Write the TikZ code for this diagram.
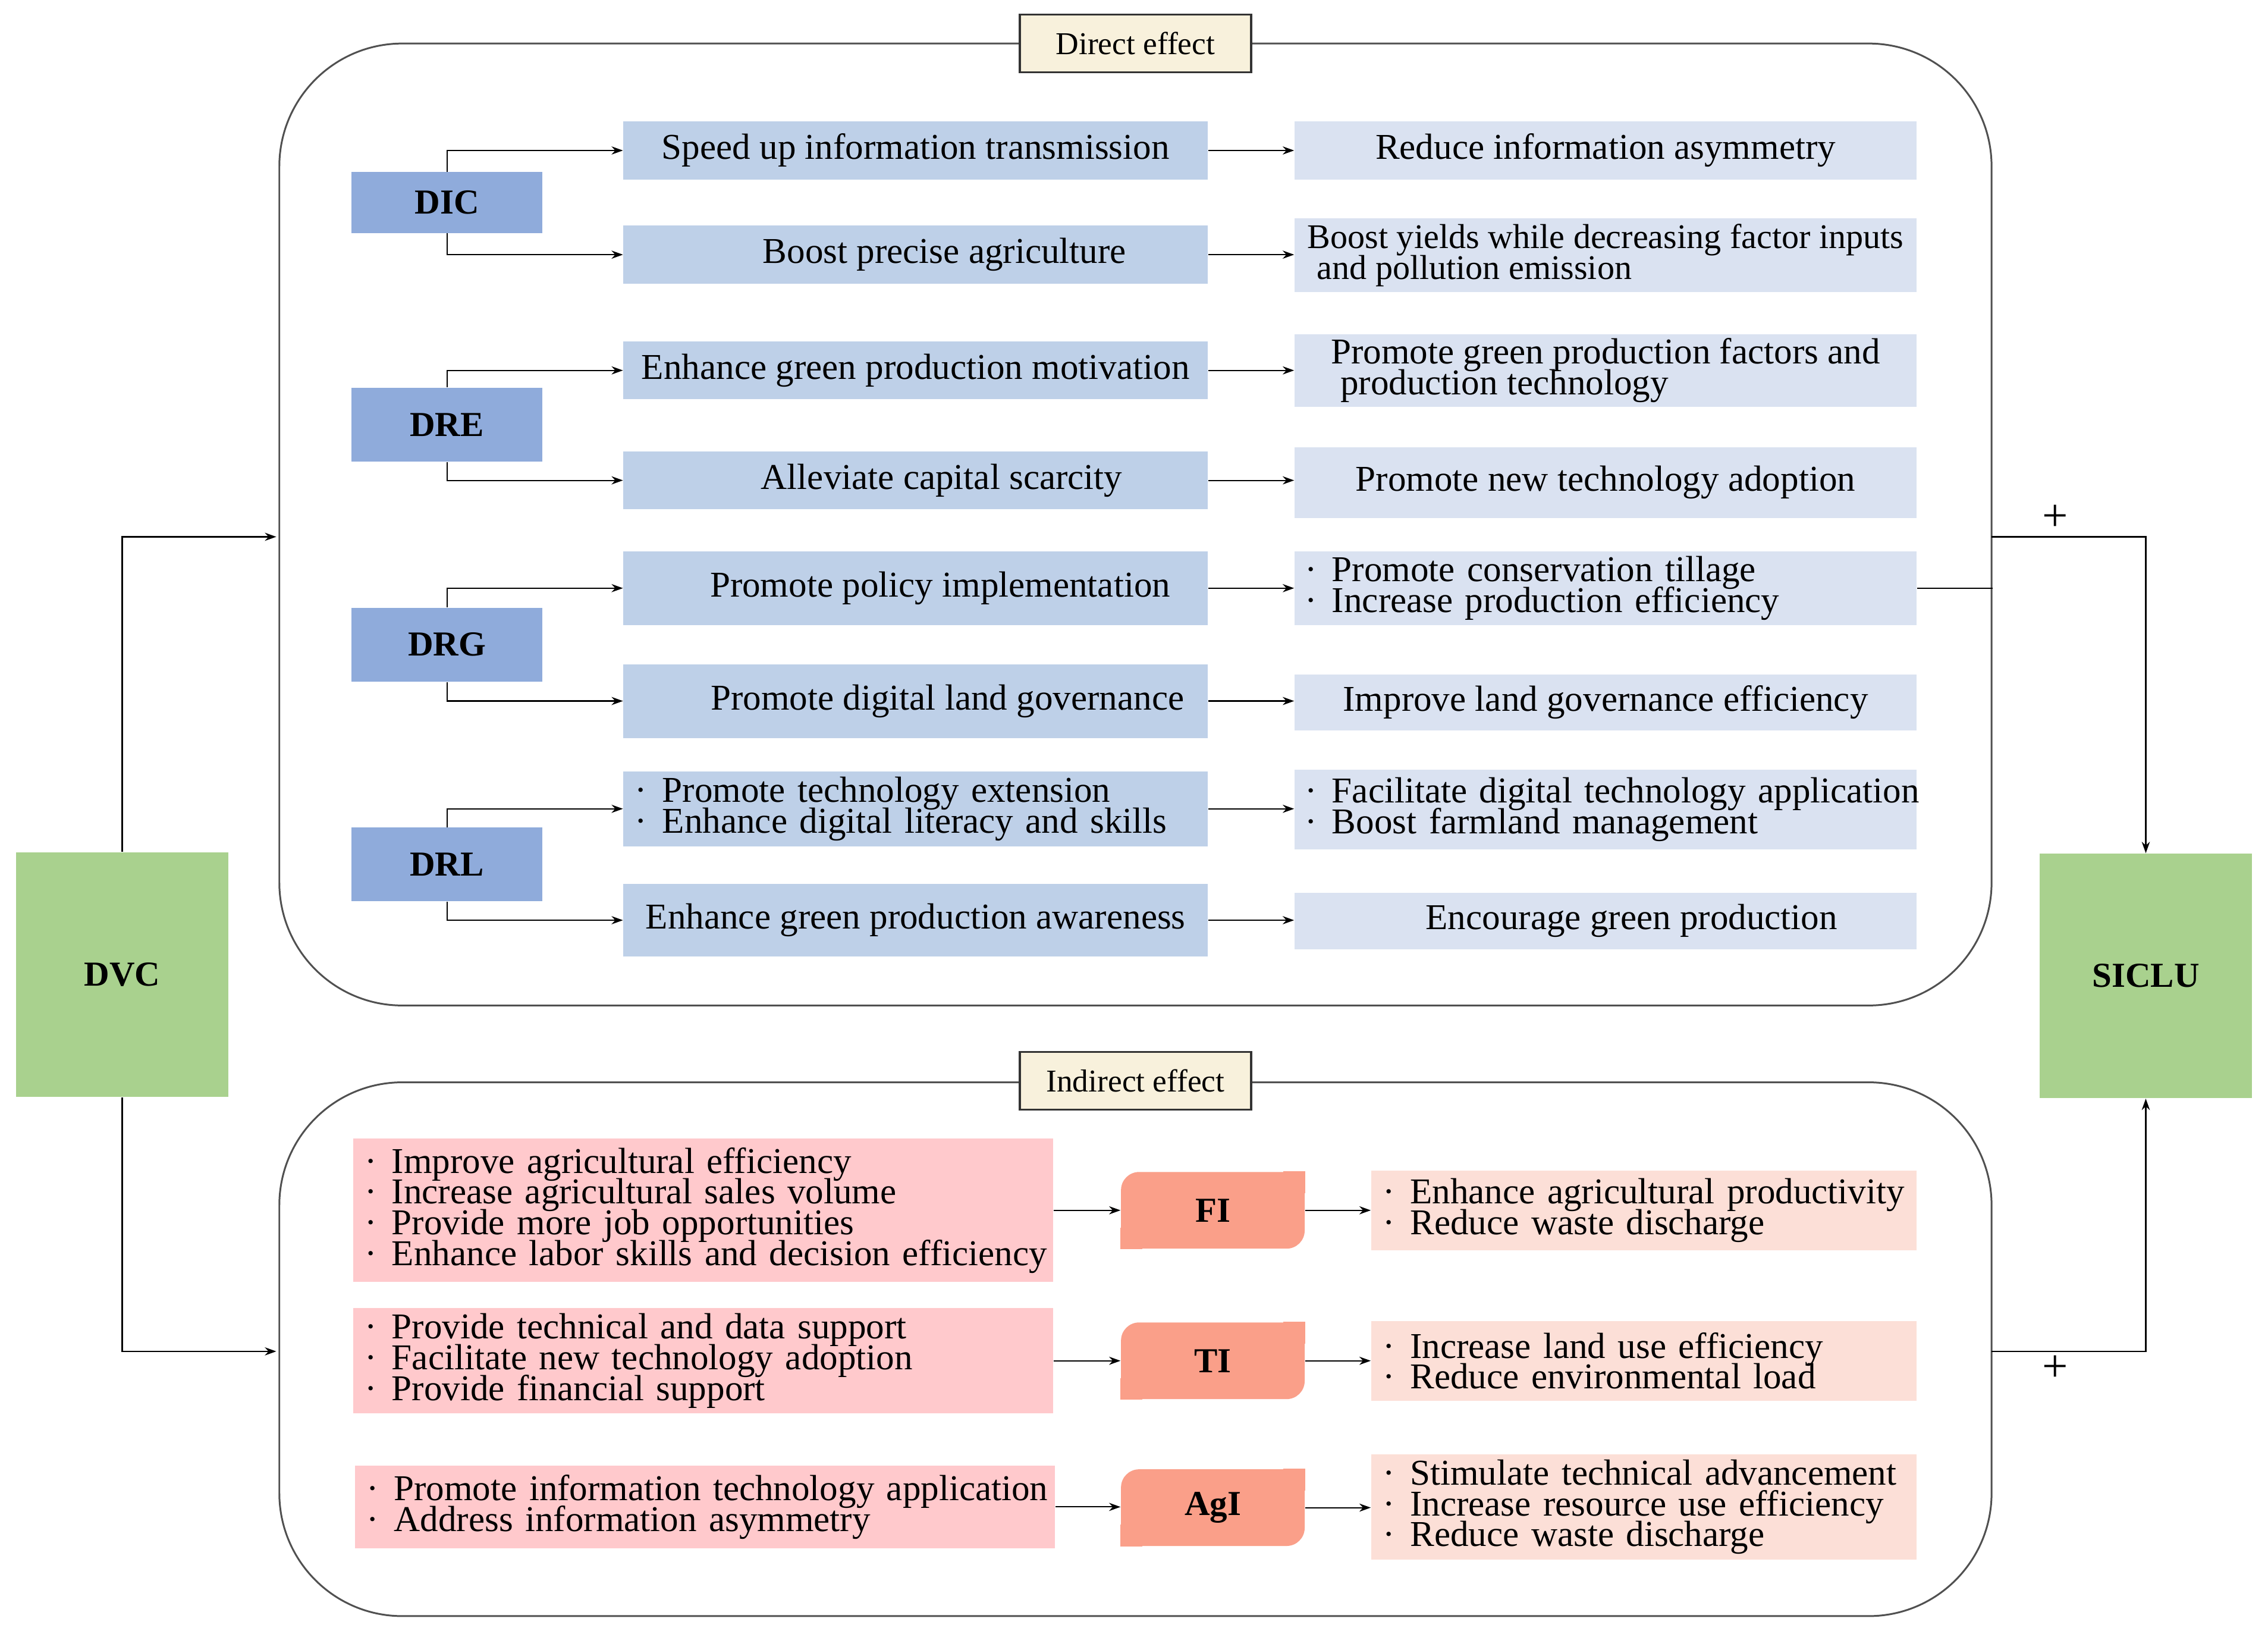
\documentclass[tikz,border=0pt]{standalone}
\usepackage{fontspec}
\setmainfont{Liberation Serif}
\usetikzlibrary{arrows.meta}
\definecolor{catblue}{HTML}{8FABDB}
\definecolor{midblue}{HTML}{BED0E8}
\definecolor{ltblue}{HTML}{DAE2F1}
\definecolor{pinkbox}{HTML}{FFC9CC}
\definecolor{salmonbox}{HTML}{FA9F89}
\definecolor{peachbox}{HTML}{FCDFD7}
\definecolor{dvgreen}{HTML}{A9D18E}
\definecolor{creambox}{HTML}{F8F1DC}
\definecolor{framegray}{HTML}{505050}
\newcommand\li[1]{\mbox{·\hspace{0.21cm}#1}}
\newcommand\txtfont{\fontsize{14.3}{12.1}\selectfont\setlength{\lineskiplimit}{-50pt}\setlength{\lineskip}{0pt}}
\newcommand\smtxtfont{\fontsize{13.6}{12.1}\selectfont\setlength{\lineskiplimit}{-50pt}\setlength{\lineskip}{0pt}}
\begin{document}
\begin{tikzpicture}[x=0.02cm,y=-0.02cm,
  txt/.style={font=\txtfont},
  bold/.style={font=\fontsize{13.8}{16}\selectfont\bfseries},
  cat/.style={fill=catblue, minimum width=2.64cm, inner sep=0pt, bold},
  mid/.style={fill=midblue, minimum width=8.08cm, inner sep=0pt, txt},
  rgt/.style={fill=ltblue, minimum width=8.6cm, inner sep=0pt, txt},
  midlst/.style={mid, align=left, inner xsep=0.16cm, text width=7.76cm},
  rgtlst/.style={rgt, align=left, inner xsep=0.14cm, text width=8.32cm},
  pinkl/.style={fill=pinkbox, minimum width=9.68cm, txt, align=left, inner xsep=0.16cm, inner ysep=0pt, text width=9.36cm},
  peachl/.style={fill=peachbox, minimum width=7.54cm, txt, align=left, inner xsep=0.16cm, inner ysep=0pt, text width=7.22cm},
  med/.style={fill=salmonbox, minimum width=2.54cm, minimum height=1.06cm, rounded corners=0.25cm, inner sep=0pt, bold},
  gbox/.style={fill=dvgreen, minimum width=2.94cm, minimum height=3.38cm, inner sep=0pt, bold},
  frame/.style={draw=framegray, line width=0.7pt, rounded corners=1.7cm, minimum width=23.68cm, inner sep=0pt},
  lab/.style={draw=black!80, fill=creambox, line width=0.8pt, minimum width=3.2cm, minimum height=0.8cm, inner sep=0pt, font=\fontsize{12.5}{14}\selectfont},
  arr/.style={-{Stealth[length=4.5pt,width=3.2pt]}, line width=0.5pt},
  ln/.style={line width=0.5pt},
  plus/.style={font=\fontsize{18}{20}\selectfont, inner sep=0pt}
]
\fill[white] (0,0) rectangle (1568,1127);
\useasboundingbox (0,0) rectangle (1568,1127);

% frames and labels
\node[frame, minimum height=13.3cm] (direct) at (785,362.5) {};
\node[frame, minimum height=7.38cm] (indirect) at (785,932.5) {};
\node[lab] (dlab) at (785,30) {Direct effect};
\node[lab] (ilab) at (785,747) {Indirect effect};

% outer boxes
\node[gbox] (DVC) at (84.5,673.5) {DVC};
\node[gbox] (SICLU) at (1483.5,674.5) {SICLU};

% categories
\node[cat, minimum height=0.84cm] (DIC) at (309,140) {DIC};
\node[cat, minimum height=1.02cm] (DRE) at (309,293.5) {DRE};
\node[cat, minimum height=1.02cm] (DRG) at (309,445.5) {DRG};
\node[cat, minimum height=1.02cm] (DRL) at (309,597.5) {DRL};

% middle column
\node[mid, minimum height=0.8cm] (m1) at (633,104) {Speed up information transmission};
\node[mid, minimum height=0.8cm] (m2) at (633,176) {\hspace*{0.8cm}Boost precise agriculture};
\node[mid, minimum height=0.8cm] (m3) at (633,256) {Enhance green production motivation};
\node[mid, minimum height=0.8cm] (m4) at (633,332) {\hspace*{0.72cm}Alleviate capital scarcity};
\node[mid, minimum height=1.02cm] (m5) at (633,406.5) {\hspace*{0.68cm}Promote policy implementation};
\node[mid, minimum height=1.02cm] (m6) at (633,484.5) {\hspace*{0.88cm}Promote digital land governance};
\node[midlst, minimum height=1.04cm] (m7) at (633,559) {\li{Promote technology extension}\\\li{Enhance digital literacy and skills}};
\node[mid, minimum height=1.0cm] (m8) at (633,636) {Enhance green production awareness};

% right column
\node[rgt, minimum height=0.8cm] (r1) at (1110,104) {Reduce information asymmetry};
\node[rgt, minimum height=1.02cm, align=left, font=\smtxtfont] (r2) at (1110,176.5) {Boost yields while decreasing factor inputs\\\hspace*{0.13cm}and pollution emission};
\node[rgt, minimum height=1.0cm, align=left] (r3) at (1110,256) {Promote green production factors and\\\hspace*{0.13cm}production technology};
\node[rgt, minimum height=0.98cm] (r4) at (1110,333.5) {Promote new technology adoption};
\node[rgtlst, minimum height=1.02cm] (r5) at (1110,406.5) {\li{Promote conservation tillage}\\\li{Increase production efficiency}};
\node[rgt, minimum height=0.78cm] (r6) at (1110,485.5) {Improve land governance efficiency};
\node[rgtlst, minimum height=1.1cm] (r7) at (1110,559.5) {\li{Facilitate digital technology application}\\\li{Boost farmland management}};
\node[rgt, minimum height=0.78cm] (r8) at (1110,636.5) {\hspace*{0.72cm}Encourage green production};

% indirect section
\node[pinkl, minimum height=1.98cm] (L1) at (486,836.5) {\li{Improve agricultural efficiency}\\\li{Increase agricultural sales volume}\\\li{Provide more job opportunities}\\\li{Enhance labor skills and decision efficiency}};
\node[pinkl, minimum height=1.46cm] (L2) at (486,940.5) {\li{Provide technical and data support}\\\li{Facilitate new technology adoption}\\\li{Provide financial support}};
\node[pinkl, minimum height=1.14cm] (L3) at (487.5,1041.5) {\li{Promote information technology application}\\\li{Address information asymmetry}};

\node[med] (FI) at (838.5,836.5) {FI};
\node[med] (TI) at (838.5,940.5) {TI};
\node[med] (AgI) at (838.5,1042) {AgI};
\foreach \m in {FI,TI,AgI}{
  \fill[salmonbox] (\m.north east) rectangle ([xshift=-0.3cm,yshift=-0.3cm]\m.north east);
  \fill[salmonbox] (\m.south west) rectangle ([xshift=0.3cm,yshift=0.3cm]\m.south west);
}

\node[peachl, minimum height=1.1cm] (R1) at (1136.5,836.5) {\li{Enhance agricultural productivity}\\\li{Reduce waste discharge}};
\node[peachl, minimum height=1.1cm] (R2) at (1136.5,940.5) {\li{Increase land use efficiency}\\\li{Reduce environmental load}};
\node[peachl, minimum height=1.46cm] (R3) at (1136.5,1041.5) {\li{Stimulate technical advancement}\\\li{Increase resource use efficiency}\\\li{Reduce waste discharge}};

% plus signs
\node[plus] (p1) at (1421,358) {+};
\node[plus] (p2) at (1421,946) {+};

% connectors: categories to middle
\draw[arr] (DIC.north) |- (m1.west);
\draw[arr] (DIC.south) |- (m2.west);
\draw[arr] (DRE.north) |- (m3.west);
\draw[arr] (DRE.south) |- (m4.west);
\draw[arr] (DRG.north) |- (m5.west);
\draw[arr] (DRG.south) |- (m6.west);
\draw[arr] (DRL.north) |- (m7.west);
\draw[arr] (DRL.south) |- (m8.west);
\foreach \i in {1,...,8}{
  \draw[arr] (m\i.east) -- (m\i.east -| r\i.west);
}

% indirect connectors
\draw[arr] (L1.east) -- (L1.east -| FI.west);
\draw[arr] (L2.east) -- (L2.east -| TI.west);
\draw[arr] (L3.east) -- (L3.east -| AgI.west);
\draw[arr] (FI.east) -- (FI.east -| R1.west);
\draw[arr] (TI.east) -- (TI.east -| R2.west);
\draw[arr] (AgI.east) -- (AgI.east -| R3.west);

% outer connectors
\coordinate (dIn) at (191,371);
\coordinate (dOut) at (1377,371);
\coordinate (iIn) at (191,934);
\coordinate (iOut) at (1377,934);
\draw[arr] (DVC.north) |- (dIn);
\draw[arr] (DVC.south) |- (iIn);
\draw[arr] (dOut) -| (SICLU.north);
\draw[arr] (iOut) -| (SICLU.south);
\draw[ln] (r5.east) -- (r5.east -| direct.east);
\end{tikzpicture}
\end{document}
